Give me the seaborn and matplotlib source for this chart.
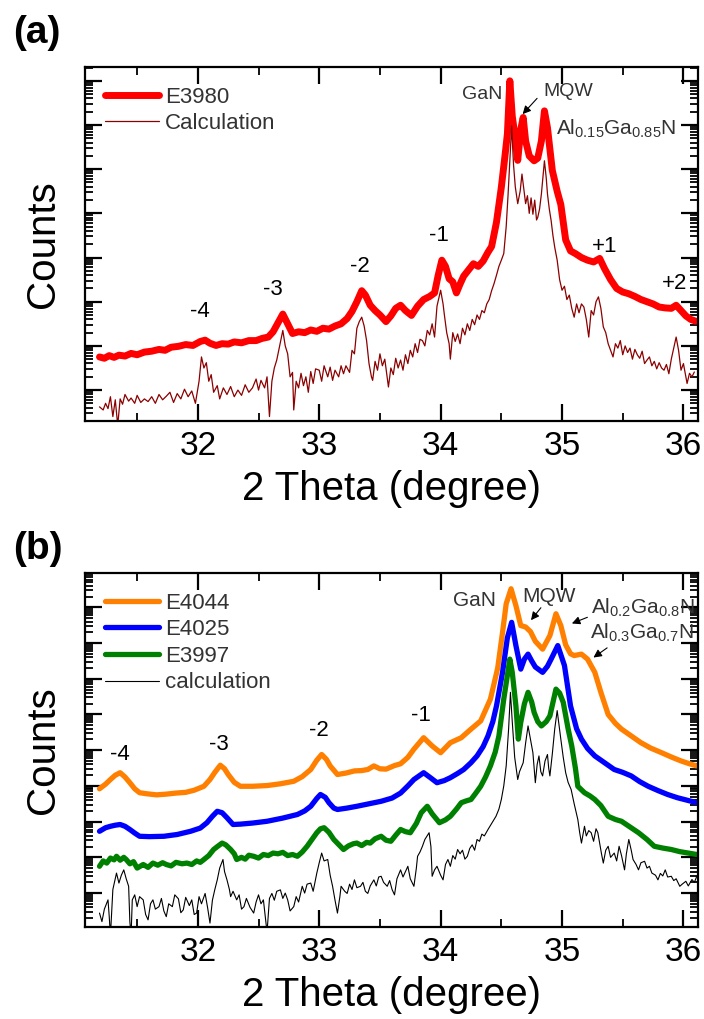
import numpy as np
import matplotlib
matplotlib.use("Agg")
import matplotlib.pyplot as plt
import matplotlib.ticker as mticker
import seaborn as sns

# ---------------- data: (2theta [deg], log10 counts) ----------------
E3980 = [(31.19, 1.75), (31.23, 1.72), (31.27, 1.78), (31.31, 1.74), (31.35, 1.79), (31.40, 1.77),
         (31.45, 1.83), (31.50, 1.80), (31.56, 1.86), (31.62, 1.88), (31.68, 1.92), (31.73, 1.90),
         (31.78, 1.97), (31.84, 1.99), (31.90, 2.03), (31.96, 2.01), (32.02, 2.10), (32.06, 2.13),
         (32.10, 2.06), (32.15, 2.01), (32.20, 2.05), (32.25, 2.04), (32.30, 2.09), (32.36, 2.07),
         (32.42, 2.12), (32.48, 2.12), (32.53, 2.17), (32.58, 2.20), (32.62, 2.32), (32.66, 2.52),
         (32.70, 2.72), (32.74, 2.50), (32.78, 2.28), (32.83, 2.32), (32.88, 2.30), (32.93, 2.36),
         (32.98, 2.33), (33.03, 2.40), (33.08, 2.38), (33.13, 2.45), (33.18, 2.50), (33.23, 2.62),
         (33.27, 2.78), (33.31, 3.00), (33.35, 3.25), (33.38, 3.15), (33.42, 2.92), (33.46, 2.80),
         (33.50, 2.70), (33.55, 2.55), (33.59, 2.68), (33.63, 2.85), (33.67, 2.92), (33.71, 2.80),
         (33.76, 2.69), (33.81, 2.90), (33.86, 3.05), (33.91, 3.12), (33.95, 3.20), (33.98, 3.60),
         (34.01, 3.94), (34.04, 3.80), (34.07, 3.52), (34.10, 3.45), (34.13, 3.20), (34.16, 3.40),
         (34.19, 3.58), (34.23, 3.72), (34.27, 3.86), (34.31, 3.80), (34.35, 3.92), (34.39, 4.12),
         (34.42, 4.25), (34.46, 4.80), (34.50, 5.59), (34.53, 6.30), (34.55, 6.80), (34.57, 8.00),
         (34.59, 7.20), (34.61, 6.80), (34.635, 6.20), (34.66, 6.90), (34.68, 7.17), (34.70, 6.64),
         (34.73, 6.30), (34.77, 6.19), (34.80, 6.25), (34.83, 6.64), (34.855, 7.32), (34.88, 6.94),
         (34.92, 5.97), (34.96, 5.50), (34.99, 5.20), (35.03, 4.40), (35.07, 4.15), (35.11, 4.09),
         (35.16, 4.00), (35.21, 3.94), (35.26, 3.90), (35.31, 3.98), (35.35, 3.75), (35.40, 3.50),
         (35.45, 3.30), (35.50, 3.22), (35.55, 3.18), (35.60, 3.12), (35.65, 3.05), (35.70, 3.00),
         (35.75, 2.95), (35.80, 2.88), (35.85, 2.86), (35.90, 2.85), (35.94, 2.92), (35.98, 2.80),
         (36.02, 2.68), (36.06, 2.60), (36.10, 2.56)]

CALC_A = [(31.19, 0.62), (31.22, 0.55), (31.24, 0.70), (31.26, 0.58), (31.28, 0.85), (31.30, 0.40),
          (31.32, 0.78), (31.34, 0.20), (31.36, 0.80), (31.38, 0.68), (31.40, 0.90), (31.43, 0.75),
          (31.45, 0.82), (31.48, 0.70), (31.50, 0.88), (31.53, 0.72), (31.56, 0.80), (31.59, 0.74),
          (31.62, 0.85), (31.65, 0.70), (31.68, 0.90), (31.71, 0.78), (31.74, 0.86), (31.77, 0.95),
          (31.80, 0.72), (31.83, 0.92), (31.86, 0.80), (31.89, 1.02), (31.92, 0.85), (31.95, 0.98),
          (31.98, 0.70), (32.01, 1.20), (32.03, 1.75), (32.05, 1.50), (32.07, 1.62), (32.09, 1.20),
          (32.11, 1.35), (32.13, 0.95), (32.16, 1.10), (32.18, 0.80), (32.21, 1.05), (32.24, 0.90),
          (32.27, 1.08), (32.30, 0.85), (32.33, 1.00), (32.36, 0.88), (32.39, 1.12), (32.42, 0.95),
          (32.45, 1.05), (32.48, 1.25), (32.50, 1.00), (32.52, 1.22), (32.55, 1.05), (32.57, 1.30),
          (32.59, 0.40), (32.61, 1.20), (32.63, 1.50), (32.65, 1.68), (32.67, 1.95), (32.70, 2.35),
          (32.72, 2.00), (32.74, 1.82), (32.76, 1.30), (32.78, 1.40), (32.79, 0.55), (32.81, 1.20),
          (32.83, 1.05), (32.85, 1.38), (32.87, 1.10), (32.89, 1.30), (32.91, 0.95), (32.93, 1.42),
          (32.95, 1.15), (32.97, 1.48), (33.00, 1.45), (33.02, 1.20), (33.04, 1.55), (33.07, 1.30),
          (33.09, 1.52), (33.11, 1.22), (33.13, 1.45), (33.16, 1.30), (33.18, 1.55), (33.20, 1.37),
          (33.22, 1.55), (33.25, 1.40), (33.27, 1.90), (33.29, 1.82), (33.31, 2.40), (33.33, 2.55),
          (33.35, 2.65), (33.37, 2.45), (33.39, 2.12), (33.41, 1.60), (33.43, 1.30), (33.44, 1.22),
          (33.46, 1.65), (33.48, 1.45), (33.50, 1.82), (33.52, 1.55), (33.54, 1.70), (33.57, 1.07),
          (33.59, 1.50), (33.61, 1.35), (33.63, 1.72), (33.65, 1.50), (33.67, 1.68), (33.69, 1.45),
          (33.71, 1.80), (33.73, 1.60), (33.75, 1.90), (33.77, 1.75), (33.79, 2.05), (33.81, 1.85),
          (33.83, 2.15), (33.85, 2.12), (33.87, 2.00), (33.89, 2.35), (33.91, 2.25), (33.93, 2.50),
          (33.95, 2.20), (33.97, 2.90), (34.00, 3.26), (34.02, 2.95), (34.03, 2.72), (34.05, 2.30),
          (34.07, 2.05), (34.08, 1.70), (34.10, 2.30), (34.12, 2.10), (34.14, 2.27), (34.16, 2.05),
          (34.18, 2.40), (34.20, 2.25), (34.22, 2.50), (34.24, 2.35), (34.26, 2.60), (34.28, 2.48),
          (34.30, 2.70), (34.32, 2.60), (34.34, 2.80), (34.36, 2.75), (34.38, 2.95), (34.40, 3.05),
          (34.42, 3.25), (34.44, 3.41), (34.46, 3.60), (34.48, 3.80), (34.50, 3.94), (34.52, 4.09),
          (34.54, 4.70), (34.555, 5.40), (34.57, 6.19), (34.585, 6.98), (34.60, 6.12), (34.615, 5.60),
          (34.635, 5.22), (34.655, 5.50), (34.67, 5.89), (34.685, 5.55), (34.70, 5.22), (34.715, 5.40),
          (34.73, 5.00), (34.745, 5.35), (34.76, 4.98), (34.775, 5.30), (34.79, 4.85), (34.80, 4.91),
          (34.815, 5.10), (34.83, 5.44), (34.855, 6.19), (34.87, 5.80), (34.88, 5.44), (34.895, 5.10),
          (34.91, 4.84), (34.925, 4.50), (34.94, 4.23), (34.96, 3.94), (34.98, 3.50), (35.00, 3.26),
          (35.02, 3.35), (35.04, 3.05), (35.06, 3.15), (35.08, 2.85), (35.10, 2.65), (35.12, 2.95),
          (35.14, 2.75), (35.16, 2.95), (35.18, 2.88), (35.20, 2.60), (35.22, 2.20), (35.24, 2.80),
          (35.26, 2.70), (35.28, 3.00), (35.30, 3.11), (35.32, 2.85), (35.34, 2.43), (35.36, 2.30),
          (35.38, 2.05), (35.40, 1.90), (35.42, 1.75), (35.44, 2.05), (35.46, 1.95), (35.48, 2.12),
          (35.50, 1.80), (35.52, 2.00), (35.54, 1.85), (35.56, 1.95), (35.58, 1.70), (35.60, 1.92),
          (35.62, 1.80), (35.64, 1.72), (35.66, 1.88), (35.68, 1.60), (35.70, 1.68), (35.72, 1.75),
          (35.74, 1.55), (35.76, 1.65), (35.78, 1.48), (35.80, 1.62), (35.82, 1.50), (35.84, 1.45),
          (35.86, 1.58), (35.88, 1.37), (35.90, 1.70), (35.92, 1.95), (35.94, 2.20), (35.96, 1.90),
          (35.98, 1.45), (36.00, 1.60), (36.02, 1.30), (36.03, 1.15), (36.05, 1.38), (36.07, 1.30),
          (36.09, 1.41)]

E4044 = [(31.19, 3.92), (31.24, 4.05), (31.28, 4.18), (31.32, 4.30), (31.36, 4.37), (31.40, 4.25),
         (31.44, 4.09), (31.48, 3.92), (31.52, 3.81), (31.58, 3.78), (31.66, 3.75), (31.74, 3.77),
         (31.82, 3.80), (31.90, 3.82), (31.97, 3.88), (32.05, 3.99), (32.10, 4.18), (32.14, 4.38),
         (32.185, 4.58), (32.22, 4.48), (32.25, 4.32), (32.30, 4.10), (32.35, 3.99), (32.45, 3.99),
         (32.57, 4.01), (32.68, 4.06), (32.79, 4.13), (32.86, 4.26), (32.93, 4.46), (32.98, 4.72),
         (33.02, 4.88), (33.06, 4.74), (33.09, 4.56), (33.15, 4.32), (33.22, 4.36), (33.29, 4.42),
         (33.35, 4.43), (33.40, 4.46), (33.45, 4.56), (33.50, 4.48), (33.55, 4.47), (33.62, 4.57),
         (33.67, 4.62), (33.73, 4.80), (33.78, 5.03), (33.86, 5.35), (33.93, 5.12), (34.00, 4.93),
         (34.08, 5.21), (34.17, 5.35), (34.25, 5.59), (34.33, 5.82), (34.41, 6.43), (34.47, 7.30),
         (34.51, 8.30), (34.54, 9.10), (34.58, 9.52), (34.62, 9.05), (34.66, 8.49), (34.70, 8.45),
         (34.74, 8.32), (34.78, 8.05), (34.84, 7.83), (34.90, 8.21), (34.95, 8.82), (34.99, 8.49),
         (35.03, 7.95), (35.07, 7.70), (35.10, 7.65), (35.16, 7.69), (35.21, 7.55), (35.27, 7.18),
         (35.32, 6.62), (35.38, 6.00), (35.44, 5.75), (35.49, 5.59), (35.57, 5.40), (35.65, 5.21),
         (35.73, 5.06), (35.82, 4.93), (35.90, 4.81), (35.98, 4.70), (36.05, 4.62), (36.11, 4.56)]

E4025 = [(31.19, 2.73), (31.24, 2.83), (31.28, 2.87), (31.32, 2.90), (31.36, 2.92), (31.40, 2.87),
         (31.44, 2.78), (31.48, 2.68), (31.52, 2.59), (31.60, 2.58), (31.72, 2.59), (31.83, 2.64),
         (31.94, 2.73), (32.02, 2.82), (32.075, 2.97), (32.12, 3.15), (32.16, 3.29), (32.20, 3.25),
         (32.24, 3.11), (32.29, 2.92), (32.35, 2.93), (32.45, 2.96), (32.57, 3.01), (32.70, 3.10),
         (32.82, 3.20), (32.88, 3.30), (32.93, 3.43), (32.98, 3.65), (33.01, 3.76), (33.05, 3.68),
         (33.08, 3.53), (33.12, 3.38), (33.15, 3.34), (33.23, 3.38), (33.31, 3.43), (33.41, 3.50),
         (33.51, 3.57), (33.60, 3.66), (33.67, 3.80), (33.73, 4.00), (33.78, 4.18), (33.86, 4.37),
         (33.92, 4.22), (33.97, 4.09), (34.03, 4.15), (34.08, 4.23), (34.14, 4.35), (34.19, 4.46),
         (34.25, 4.65), (34.30, 4.84), (34.35, 5.10), (34.39, 5.40), (34.43, 5.80), (34.46, 6.24),
         (34.51, 7.18), (34.55, 8.15), (34.585, 8.58), (34.62, 7.93), (34.66, 7.27), (34.69, 7.55),
         (34.72, 7.69), (34.75, 7.50), (34.78, 7.33), (34.84, 7.18), (34.88, 7.35), (34.91, 7.55),
         (34.965, 7.93), (35.02, 7.37), (35.07, 6.24), (35.12, 5.60), (35.16, 5.31), (35.21, 5.05),
         (35.27, 4.84), (35.35, 4.65), (35.43, 4.46), (35.50, 4.38), (35.57, 4.28), (35.64, 4.12),
         (35.71, 3.99), (35.79, 3.87), (35.87, 3.76), (35.95, 3.67), (36.03, 3.60), (36.11, 3.53)]

E3997 = [(31.19, 1.75), (31.22, 1.90), (31.25, 1.84), (31.28, 1.98), (31.31, 1.93), (31.33, 2.03),
         (31.36, 1.92), (31.39, 2.00), (31.41, 1.94), (31.44, 1.82), (31.47, 1.88), (31.50, 1.70),
         (31.53, 1.76), (31.55, 1.80), (31.59, 1.72), (31.63, 1.84), (31.67, 1.78), (31.71, 1.85),
         (31.74, 1.80), (31.78, 1.76), (31.82, 1.86), (31.87, 1.82), (31.91, 1.84), (31.95, 1.80),
         (31.99, 1.90), (32.02, 1.86), (32.05, 1.94), (32.09, 2.05), (32.13, 2.22), (32.16, 2.30),
         (32.20, 2.40), (32.23, 2.35), (32.27, 2.22), (32.30, 2.10), (32.32, 1.94), (32.36, 2.00),
         (32.39, 1.95), (32.42, 2.06), (32.46, 2.03), (32.50, 1.98), (32.54, 2.08), (32.58, 2.05),
         (32.62, 2.12), (32.66, 2.10), (32.70, 2.14), (32.74, 2.05), (32.78, 2.08), (32.82, 2.03),
         (32.86, 2.15), (32.90, 2.31), (32.94, 2.50), (32.98, 2.69), (33.01, 2.80), (33.04, 2.83),
         (33.08, 2.70), (33.12, 2.50), (33.16, 2.36), (33.20, 2.22), (33.24, 2.32), (33.28, 2.38),
         (33.31, 2.40), (33.35, 2.33), (33.39, 2.42), (33.42, 2.40), (33.46, 2.52), (33.51, 2.59),
         (33.55, 2.48), (33.59, 2.45), (33.63, 2.62), (33.67, 2.78), (33.71, 2.72), (33.75, 2.69),
         (33.80, 2.95), (33.84, 3.25), (33.89, 3.43), (33.93, 3.22), (33.99, 2.97), (34.04, 3.05),
         (34.08, 3.15), (34.13, 3.35), (34.17, 3.53), (34.21, 3.58), (34.25, 3.62), (34.29, 3.80),
         (34.33, 3.99), (34.37, 4.25), (34.41, 4.56), (34.45, 4.95), (34.48, 5.40), (34.52, 6.43),
         (34.55, 7.10), (34.57, 7.55), (34.59, 7.18), (34.62, 6.24), (34.64, 5.31), (34.66, 5.78),
         (34.69, 6.30), (34.72, 6.62), (34.75, 6.35), (34.77, 6.06), (34.80, 5.80), (34.83, 5.68),
         (34.87, 5.80), (34.90, 5.96), (34.95, 6.71), (34.98, 6.60), (35.01, 6.34), (35.05, 5.60),
         (35.08, 5.12), (35.11, 4.50), (35.13, 3.99), (35.185, 3.81), (35.23, 3.72), (35.27, 3.62),
         (35.32, 3.45), (35.38, 3.15), (35.44, 3.06), (35.49, 3.01), (35.56, 2.85), (35.63, 2.69),
         (35.70, 2.50), (35.76, 2.31), (35.83, 2.26), (35.90, 2.22), (35.97, 2.16), (36.04, 2.12),
         (36.11, 2.08)]

CALC_B = [(31.19, 0.44), (31.21, 0.20), (31.23, 0.55), (31.26, 0.81), (31.27, 0.35), (31.28, -0.20),
          (31.30, 1.10), (31.33, 1.56), (31.35, 1.28), (31.37, 1.50), (31.39, 1.65), (31.41, 1.40),
          (31.43, 1.19), (31.44, 0.20), (31.45, -0.20), (31.46, 0.81), (31.48, 0.95), (31.50, 0.62),
          (31.52, 0.90), (31.55, 0.81), (31.57, 0.40), (31.59, 0.25), (31.61, 0.70), (31.63, 0.81),
          (31.65, 0.55), (31.68, 0.62), (31.70, 0.85), (31.72, 0.50), (31.74, 0.34), (31.76, 0.70),
          (31.79, 0.62), (31.81, 0.95), (31.84, 0.84), (31.86, 0.45), (31.88, 0.53), (31.90, 0.88),
          (31.93, 0.65), (31.95, 0.81), (31.97, 0.40), (31.99, 0.44), (32.01, 0.90), (32.03, 0.70),
          (32.06, 0.99), (32.08, 0.60), (32.10, 0.16), (32.12, 0.80), (32.14, 1.10), (32.16, 1.37),
          (32.18, 1.70), (32.207, 1.94), (32.22, 1.60), (32.24, 1.37), (32.26, 1.10), (32.27, 0.90),
          (32.29, 1.05), (32.32, 0.81), (32.34, 0.95), (32.36, 0.55), (32.38, 0.62), (32.40, 0.85),
          (32.43, 0.60), (32.46, 0.44), (32.48, 0.75), (32.50, 0.95), (32.52, 0.70), (32.54, 0.81),
          (32.57, -0.10), (32.59, 0.85), (32.61, 0.99), (32.63, 0.80), (32.65, 1.05), (32.68, 1.09),
          (32.70, 0.85), (32.72, 1.00), (32.74, 0.81), (32.76, 0.50), (32.79, 0.62), (32.81, 0.90),
          (32.83, 0.75), (32.86, 1.19), (32.88, 1.00), (32.90, 1.25), (32.93, 1.28), (32.95, 1.05),
          (32.98, 1.56), (33.00, 1.85), (33.02, 2.12), (33.04, 1.90), (33.07, 1.94), (33.09, 1.50),
          (33.11, 1.19), (33.13, 0.80), (33.15, 0.44), (33.17, 0.90), (33.18, 1.19), (33.21, 1.05),
          (33.23, 0.99), (33.25, 1.25), (33.27, 1.10), (33.29, 1.37), (33.31, 1.15), (33.34, 1.19),
          (33.36, 1.30), (33.38, 1.05), (33.40, 0.99), (33.42, 1.20), (33.45, 1.37), (33.47, 1.20),
          (33.49, 1.45), (33.51, 1.47), (33.53, 1.30), (33.56, 1.19), (33.58, 1.35), (33.60, 1.10),
          (33.62, 0.95), (33.64, 1.40), (33.67, 1.65), (33.69, 1.45), (33.71, 1.60), (33.73, 1.75),
          (33.75, 1.40), (33.78, 1.19), (33.80, 1.70), (33.81, 2.03), (33.83, 2.15), (33.85, 2.31),
          (33.87, 2.50), (33.905, 2.69), (33.92, 2.30), (33.93, 1.47), (33.95, 1.65), (33.97, 1.75),
          (34.00, 1.50), (34.02, 1.37), (34.04, 1.80), (34.06, 1.94), (34.08, 1.75), (34.10, 2.05),
          (34.12, 1.95), (34.14, 2.22), (34.16, 2.10), (34.18, 2.20), (34.20, 1.95), (34.22, 2.03),
          (34.24, 2.25), (34.26, 2.35), (34.28, 2.20), (34.30, 2.50), (34.32, 2.45), (34.34, 2.65),
          (34.36, 2.60), (34.39, 2.78), (34.42, 2.95), (34.456, 3.15), (34.48, 3.35), (34.50, 3.62),
          (34.52, 4.00), (34.54, 4.56), (34.56, 5.60), (34.575, 6.62), (34.59, 5.80), (34.61, 4.80),
          (34.635, 4.18), (34.65, 4.40), (34.68, 4.65), (34.70, 5.20), (34.72, 5.68), (34.74, 5.30),
          (34.76, 4.93), (34.78, 4.09), (34.795, 4.60), (34.81, 4.84), (34.825, 4.40), (34.84, 4.28),
          (34.86, 4.70), (34.88, 4.88), (34.89, 4.50), (34.90, 4.28), (34.92, 4.90), (34.94, 5.60),
          (34.96, 6.11), (34.975, 5.70), (34.99, 5.31), (35.01, 4.80), (35.03, 4.37), (35.05, 4.10),
          (35.075, 3.90), (35.10, 3.50), (35.13, 3.06), (35.145, 2.70), (35.16, 2.40), (35.185, 2.87),
          (35.20, 2.60), (35.22, 2.75), (35.24, 2.69), (35.26, 2.45), (35.28, 2.80), (35.295, 2.69),
          (35.31, 2.40), (35.325, 2.10), (35.34, 1.84), (35.36, 2.20), (35.38, 2.31), (35.40, 2.00),
          (35.43, 2.12), (35.45, 1.90), (35.47, 2.31), (35.49, 2.05), (35.515, 1.65), (35.53, 2.10),
          (35.55, 2.50), (35.57, 2.20), (35.585, 1.94), (35.61, 1.80), (35.63, 1.65), (35.65, 1.85),
          (35.68, 1.89), (35.70, 1.70), (35.72, 1.75), (35.74, 1.56), (35.77, 1.50), (35.79, 1.37),
          (35.81, 1.55), (35.83, 1.48), (35.85, 1.65), (35.87, 1.45), (35.90, 1.47), (35.92, 1.35),
          (35.94, 1.40), (35.97, 1.19), (35.99, 1.25), (36.02, 1.33), (36.04, 1.20), (36.07, 1.38),
          (36.09, 1.30), (36.11, 1.47)]

# satellite-peak labels: (text, 2theta, log10 counts)
ORDERS_A = [("-4", 32.02, 2.78), ("-3", 32.62, 3.28), ("-2", 33.335, 3.80),
            ("-1", 33.99, 4.51), ("+1", 35.35, 4.25), ("+2", 35.93, 3.42)]
ORDERS_B = [("-4", 31.36, 4.89), ("-3", 32.17, 5.17), ("-2", 33.00, 5.54), ("-1", 33.84, 5.96)]

XTICKS = [32, 33, 34, 35, 36]

# ---------------- style ----------------
sns.set_theme(style="ticks")
plt.rcParams["font.family"] = ["Liberation Sans", "DejaVu Sans"]
plt.rcParams["mathtext.fontset"] = "custom"
plt.rcParams["mathtext.rm"] = "Liberation Sans"
plt.rcParams["mathtext.it"] = "Liberation Sans"
plt.rcParams["mathtext.default"] = "regular"
plt.rcParams["axes.linewidth"] = 1.6
plt.rcParams["text.color"] = "black"
plt.rcParams["axes.labelcolor"] = "black"
plt.rcParams["xtick.color"] = "black"
plt.rcParams["ytick.color"] = "black"

fig = plt.figure(figsize=(7.04, 10.19), dpi=100)
W, H = 704.0, 1019.0
axA = fig.add_axes([85.3 / W, 1 - 421 / H, (698 - 85.3) / W, (421 - 66.7) / H])
axB = fig.add_axes([85.3 / W, 1 - 927 / H, (698 - 85.3) / W, (927 - 572.7) / H])


def draw(ax, data, color, lw, label):
    arr = np.array(data)
    sns.lineplot(x=arr[:, 0], y=np.power(10.0, arr[:, 1]), ax=ax, color=color, lw=lw,
                 label=label, estimator=None, sort=False)


draw(axA, E3980, "#ff0000", 5.0, "E3980")
draw(axA, CALC_A, "#8b0000", 0.9, "Calculation")

draw(axB, E4044, "#ff8000", 3.8, "E4044")
draw(axB, E4025, "#0000ff", 3.8, "E4025")
draw(axB, E3997, "#008000", 3.8, "E3997")
draw(axB, CALC_B, "#000000", 0.8, "calculation")


def style(ax, ylo, yhi):
    ax.set_yscale("log")
    ax.set_xlim(31.073, 36.12)
    ax.set_ylim(10 ** ylo, 10 ** yhi)
    ax.xaxis.set_major_locator(mticker.FixedLocator(XTICKS))
    ax.xaxis.set_minor_locator(mticker.MultipleLocator(0.5))
    ax.yaxis.set_major_locator(mticker.LogLocator(base=10, numticks=30))
    ax.yaxis.set_minor_locator(mticker.LogLocator(base=10, subs=np.arange(2, 10), numticks=30))
    ax.yaxis.set_major_formatter(mticker.NullFormatter())
    ax.yaxis.set_minor_formatter(mticker.NullFormatter())
    ax.tick_params(which="both", direction="in", top=True, right=True, color="black")
    ax.tick_params(which="major", length=12, width=1.6, labelsize=24, pad=7)
    ax.tick_params(which="minor", length=6, width=1.3)
    for s in ax.spines.values():
        s.set_visible(True)
        s.set_color("black")
        s.set_linewidth(1.6)
    ax.set_xlabel("2 Theta (degree)", fontsize=29, labelpad=6)
    ax.set_ylabel("Counts", fontsize=29, labelpad=10)
    leg = ax.legend(loc="upper left", frameon=False, fontsize=16, handlelength=2.4,
                    handletextpad=0.3, labelspacing=0.25, borderaxespad=0.5)
    for t in leg.get_texts():
        t.set_color("#333333")


style(axA, 0.30, 8.32)
style(axB, 0.05, 9.97)

for txt, x, d in ORDERS_A:
    axA.text(x, 10 ** d, txt, fontsize=16, ha="center", va="center")
for txt, x, d in ORDERS_B:
    axB.text(x, 10 ** d, txt, fontsize=16, ha="center", va="center")

arrow = dict(arrowstyle="-|>", color="black", lw=0.8, mutation_scale=12)
ann = "#333333"

# panel (a) peak labels
axA.text(34.346, 10 ** 7.69, "GaN", fontsize=14, ha="center", va="center", color=ann)
axA.text(35.05, 10 ** 7.76, "MQW", fontsize=14, ha="center", va="center", color=ann)
axA.annotate("", xy=(34.66, 10 ** 7.20), xytext=(34.81, 10 ** 7.65), arrowprops=arrow)
axA.text(34.95, 10 ** 6.78, r"Al$_{0.15}$Ga$_{0.85}$N", fontsize=15, ha="left", va="baseline",
         color=ann)

# panel (b) peak labels
axB.text(34.28, 10 ** 9.19, "GaN", fontsize=15, ha="center", va="center", color=ann)
axB.text(34.89, 10 ** 9.29, "MQW", fontsize=15, ha="center", va="center", color=ann)
axB.annotate("", xy=(34.73, 10 ** 8.58), xytext=(34.84, 10 ** 9.05), arrowprops=arrow)
axB.text(35.24, 10 ** 8.82, r"Al$_{0.2}$Ga$_{0.8}$N", fontsize=15, ha="left", va="baseline",
         color=ann)
axB.annotate("", xy=(35.06, 10 ** 8.52), xytext=(35.23, 10 ** 8.75), arrowprops=arrow)
axB.text(35.23, 10 ** 8.12, r"Al$_{0.3}$Ga$_{0.7}$N", fontsize=15, ha="left", va="baseline",
         color=ann)
axB.annotate("", xy=(35.24, 10 ** 7.55), xytext=(35.39, 10 ** 7.91), arrowprops=arrow)

fig.text(13 / W, 1 - 33 / H, "(a)", fontsize=28, fontweight="bold", ha="left", va="center")
fig.text(13 / W, 1 - 549 / H, "(b)", fontsize=28, fontweight="bold", ha="left", va="center")

fig.savefig("out.png", dpi=100)
